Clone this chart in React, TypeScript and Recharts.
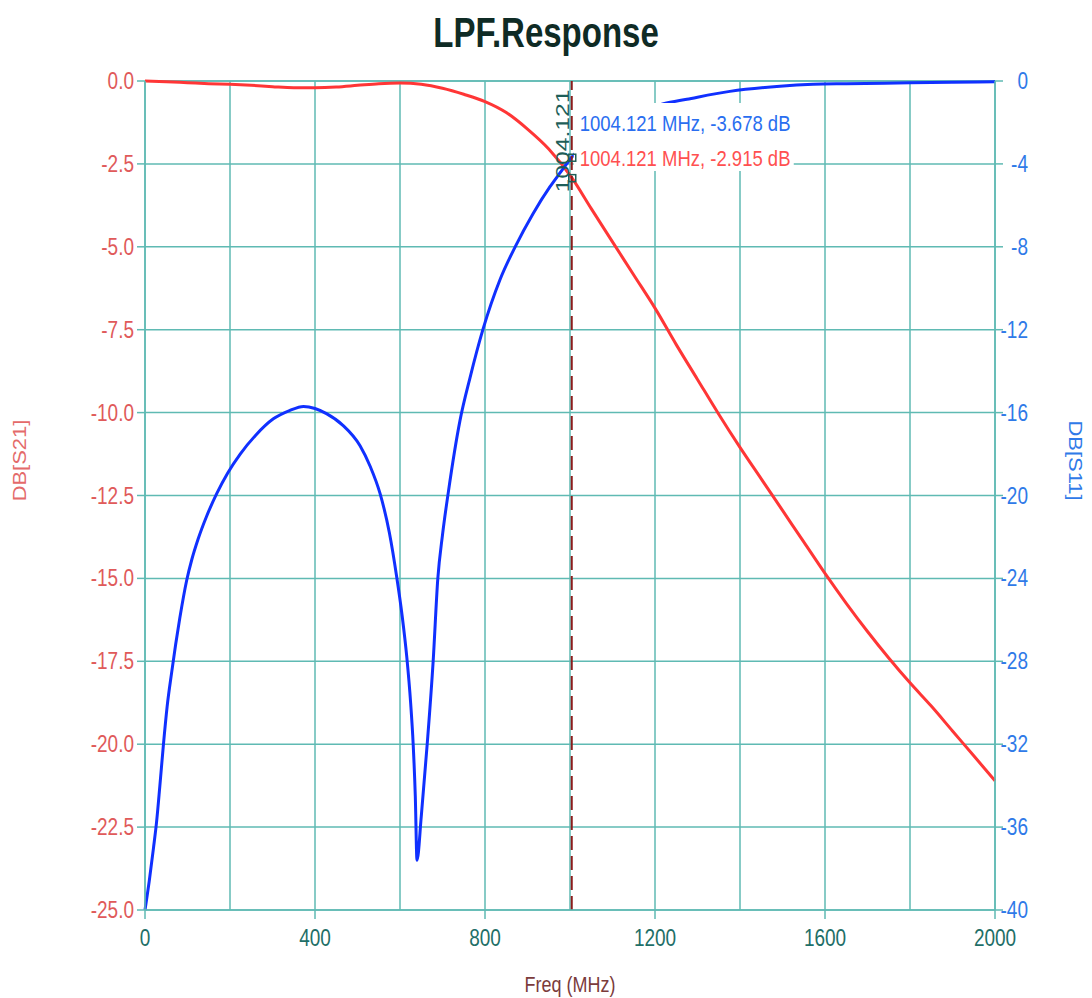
import React from 'react';
import { LineChart, Line, XAxis, YAxis, CartesianGrid, ReferenceLine, ReferenceDot, Label } from 'recharts';

// Sweep points for S21 (left axis), MHz / dB
const s21Freq = [0, 50, 100, 150, 200, 250, 300, 350, 400, 450, 500, 550, 600, 650, 700, 750, 800, 850, 900, 950, 1004.121, 1050, 1100, 1150, 1200, 1250, 1300, 1350, 1400, 1450, 1500, 1550, 1600, 1650, 1700, 1750, 1800, 1850, 1900, 1950, 2000];
const s21Db = [0.0, -0.02, -0.05, -0.08, -0.1, -0.13, -0.17, -0.2, -0.2, -0.18, -0.13, -0.08, -0.06, -0.1, -0.22, -0.4, -0.62, -0.95, -1.45, -2.05, -2.915, -3.85, -4.85, -5.85, -6.85, -7.95, -9.0, -10.05, -11.05, -12.0, -12.95, -13.9, -14.85, -15.75, -16.6, -17.4, -18.15, -18.85, -19.6, -20.35, -21.1];

// Sweep points for S11 (right axis), MHz / dB
const s11Freq = [0, 10, 20, 27, 35, 43, 52, 63, 72, 82, 98, 110, 125, 145, 169, 195, 224, 260, 302, 340, 373, 400, 427, 465, 506, 530, 553, 575, 592, 605, 616, 625, 631, 636, 640, 650, 664, 678, 689, 700, 714, 741, 765, 795, 835, 871, 913, 953, 976, 1004.121, 1050, 1100, 1150, 1220, 1275, 1376, 1494, 1572, 1650, 1800, 1900, 2000];
const s11Db = [-40, -38.6, -37, -35.8, -34, -32.1, -30.2, -28.5, -27.2, -25.9, -24.1, -23.1, -22.1, -21, -19.9, -18.9, -18, -17.1, -16.3, -15.9, -15.7, -15.8, -16.05, -16.6, -17.6, -18.6, -19.9, -21.8, -23.9, -25.8, -27.8, -30, -32, -34.5, -37.6, -35.5, -32, -28, -24, -21.9, -19.8, -16.4, -14.3, -12, -9.6, -8, -6.4, -5.1, -4.45, -3.678, -2.8, -2.1, -1.6, -1.1, -0.88, -0.5, -0.25, -0.16, -0.13, -0.09, -0.06, -0.04];

const freqTicks = [0, 200, 400, 600, 800, 1000, 1200, 1400, 1600, 1800, 2000];
const s21Ticks = [0, -2.5, -5, -7.5, -10, -12.5, -15, -17.5, -20, -22.5, -25];
const s11Ticks = [0, -4, -8, -12, -16, -20, -24, -28, -32, -36, -40];

// marker readout
const markerFreq = 1004.121;
const markerS21 = -2.915;
const markerS11 = -3.678;

const s21Data = s21Freq.map((f, i) => ({ freq: f, db: s21Db[i] }));
const s11Data = s11Freq.map((f, i) => ({ freq: f, db: s11Db[i] }));

const GRID = '#5fbab3';
const RED = '#ff3636';
const BLUE = '#1030ff';
const FONT = '"Liberation Sans", Arial, sans-serif';
const STRETCH = 1.22; // the plot's lettering is drawn tall and narrow

// text anchored at (x, y) and stretched vertically
const TallText = ({ x, y, anchor = 'start', fill, size, children }: any) => (
  <text
    transform={`translate(${x} ${y}) scale(1 ${STRETCH})`}
    textAnchor={anchor}
    fill={fill}
    fontSize={size}
  >
    {children}
  </text>
);

const FreqTick = ({ x, y, payload }: any) => {
  if (payload.value % 400 !== 0) return <g />;
  return (
    <g>
      <line x1={x} x2={x} y1={y - 9} y2={y} stroke={GRID} strokeWidth={1.5} />
      <TallText x={x} y={y + 27} anchor="middle" fill="#1f6f68" size={19}>
        {payload.value}
      </TallText>
    </g>
  );
};

const S21Tick = ({ x, y, payload }: any) => (
  <TallText x={x} y={y + 8} anchor="end" fill="#e05a5a" size={19}>
    {payload.value.toFixed(1)}
  </TallText>
);

const S11Tick = ({ x, y, payload }: any) => (
  <TallText x={x + 25} y={y + 8} anchor="end" fill="#2f7ae8" size={19}>
    {payload.value}
  </TallText>
);

const SideTitle = ({ viewBox, text, color, side }: any) => {
  const { x, y, width, height } = viewBox;
  const cx = side === 'left' ? x + 20 : x + width - 17;
  const cy = y + height / 2 - 35;
  const rot = side === 'left' ? -90 : 90;
  return (
    <text
      transform={`translate(${cx} ${cy}) rotate(${rot}) scale(${STRETCH} 1)`}
      textAnchor="middle"
      dominantBaseline="central"
      fill={color}
      fontSize={18}
    >
      {text}
    </text>
  );
};

const FreqTitle = ({ viewBox }: any) => {
  const { x, y, width } = viewBox;
  return (
    <TallText x={x + width / 2} y={y + 82} anchor="middle" fill="#7b3b3b" size={18}>
      Freq (MHz)
    </TallText>
  );
};

// readout box hanging off the marker line
const MarkerTag = ({ viewBox }: any) => {
  const { x, y } = viewBox;
  const rx = x - 9;
  const ry = y + 60;
  return (
    <g>
      <rect x={x + 2} y={y + 22} width={220} height={68} fill="#fff" />
      <text
        transform={`translate(${rx} ${ry}) rotate(-90) scale(1.3 1)`}
        textAnchor="middle"
        dominantBaseline="central"
        fill="#1e5e58"
        fontSize={19}
      >
        {markerFreq}
      </text>
      <TallText x={x + 8} y={y + 50} fill="#2a6ef0" size={18.5}>
        {`${markerFreq} MHz, ${markerS11} dB`}
      </TallText>
      <TallText x={x + 8} y={y + 85} fill="#ff5050" size={18.5}>
        {`${markerFreq} MHz, ${markerS21} dB`}
      </TallText>
    </g>
  );
};

const MarkerSquare = ({ cx, cy }: any) => (
  <rect x={cx - 3} y={cy - 3} width={7} height={7} fill="none" stroke="#1f5f58" strokeWidth={1.5} />
);

const App: React.FC = () => {
  return (
    <div style={{ position: 'absolute', left: 0, top: 0, width: 1092, height: 998, background: '#fff', fontFamily: FONT }}>
      <div
        style={{
          position: 'absolute',
          left: 0,
          top: 14,
          width: 1092,
          textAlign: 'center',
          fontSize: 33,
          fontWeight: 'bold',
          color: '#0f2b25',
          transform: 'scaleY(1.3)',
        }}
      >
        LPF.Response
      </div>
      <LineChart width={1092} height={998} margin={{ top: 81, right: 0, bottom: 0, left: 0 }}>
        <CartesianGrid stroke={GRID} strokeWidth={1.5} />
        <XAxis
          type="number"
          dataKey="freq"
          domain={[0, 2000]}
          ticks={freqTicks}
          interval={0}
          height={88}
          tick={FreqTick}
          tickLine={false}
          tickSize={9}
          tickMargin={0}
          axisLine={{ stroke: GRID, strokeWidth: 1.5 }}
        >
          <Label content={FreqTitle} />
        </XAxis>
        <YAxis
          domain={[-25, 0]}
          ticks={s21Ticks}
          interval={0}
          width={145}
          tick={S21Tick}
          tickLine={{ stroke: GRID, strokeWidth: 1.5 }}
          tickSize={8}
          tickMargin={3}
          axisLine={{ stroke: GRID, strokeWidth: 1.5 }}
        >
          <Label content={(p: any) => <SideTitle {...p} text="DB[S21]" color="#e46a6a" side="left" />} />
        </YAxis>
        <YAxis
          yAxisId="right"
          orientation="right"
          domain={[-40, 0]}
          ticks={s11Ticks}
          interval={0}
          width={97}
          tick={S11Tick}
          tickLine={{ stroke: GRID, strokeWidth: 1.5 }}
          tickSize={8}
          tickMargin={0}
          axisLine={{ stroke: GRID, strokeWidth: 1.5 }}
        >
          <Label content={(p: any) => <SideTitle {...p} text="DB[S11]" color="#2f7ae8" side="right" />} />
        </YAxis>
        <ReferenceLine y={0} stroke={GRID} strokeWidth={1.5} />
        <Line
          data={s21Data}
          dataKey="db"
          type="monotone"
          stroke={RED}
          strokeWidth={3}
          dot={false}
          activeDot={false}
          isAnimationActive={false}
        />
        <Line
          data={s11Data}
          dataKey="db"
          yAxisId="right"
          type="monotone"
          stroke={BLUE}
          strokeWidth={3}
          dot={false}
          activeDot={false}
          isAnimationActive={false}
        />
        <ReferenceLine
          x={markerFreq}
          stroke="#8c1c1c"
          strokeWidth={2}
          strokeDasharray="14 6"
          label={MarkerTag}
        />
        <ReferenceDot x={markerFreq} y={markerS11} yAxisId="right" shape={MarkerSquare} />
        <ReferenceDot x={markerFreq} y={markerS21} shape={MarkerSquare} />
      </LineChart>
    </div>
  );
};

export default App;
